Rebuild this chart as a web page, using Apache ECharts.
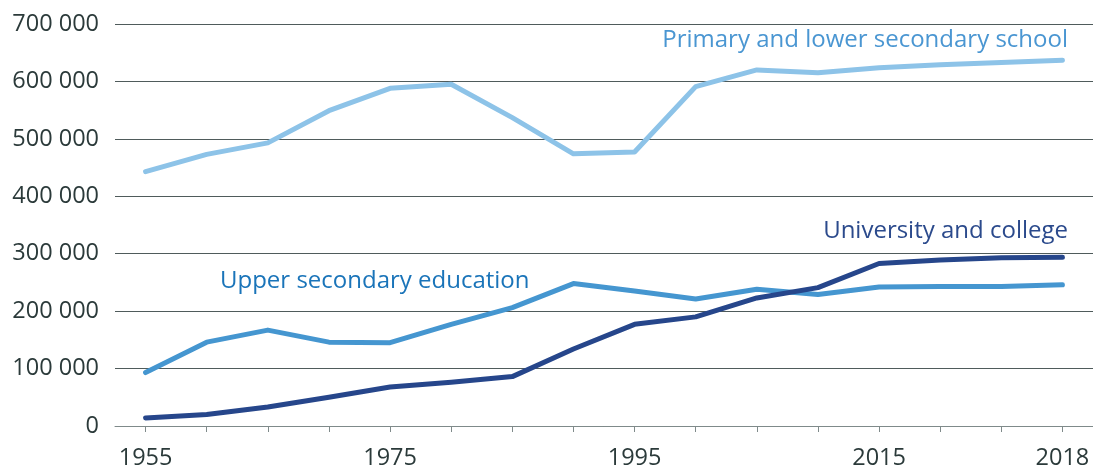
<!DOCTYPE html>
<html>
<head>
<meta charset="utf-8">
<script src="https://cdn.jsdelivr.net/npm/echarts@6/dist/echarts.min.js"></script>
<style>
  html, body { margin: 0; padding: 0; background: #fff; }
  #chart { width: 1093px; height: 466px; }
</style>
</head>
<body>
<div id="chart"></div>
<script>
// years (equal spacing, last three are single years)
var years = ["1955", "1960", "1965", "1970", "1975", "1980", "1985", "1990",
  "1995", "2000", "2005", "2010", "2015", "2016", "2017", "2018"];
var shownYears = ["1955", "1975", "1995", "2015", "2018"];

var primary = [443000, 473000, 493000, 549000, 588000, 595000, 537000, 474000,
  477000, 591000, 620000, 615000, 624000, 629000, 633000, 637000];
var upperSecondary = [93000, 146000, 167000, 146000, 145000, 177000, 206000, 248000,
  235000, 221000, 238000, 229000, 242000, 243000, 243000, 246000];
var university = [14000, 20000, 33000, 50000, 68000, 76000, 86000, 134000,
  177000, 190000, 223000, 241000, 283000, 289000, 293000, 294000];

var yTicks = [0, 100000, 200000, 300000, 400000, 500000, 600000, 700000];

var font = "'Open Sans', sans-serif";
var chart = echarts.init(document.getElementById("chart"));

function lineSeries(name, data, color) {
  return {
    name: name,
    type: "line",
    data: data,
    symbol: "none",
    lineStyle: { width: 5, color: color, cap: "round", join: "round" },
    itemStyle: { color: color },
    animation: false
  };
}

chart.setOption({
  backgroundColor: "#ffffff",
  grid: { left: 115, right: 0, top: 24, bottom: 40, containLabel: false, outerBoundsMode: "none" },
  xAxis: {
    type: "category",
    data: years,
    boundaryGap: true,
    axisLine: { show: true, lineStyle: { color: "#7f8a8a", width: 1 } },
    axisTick: { show: true, alignWithLabel: true, interval: 0, length: 6, lineStyle: { color: "#7f8a8a" } },
    axisLabel: {
      interval: function (i, v) { return shownYears.indexOf(v) >= 0; },
      color: "#2b3a3a",
      fontFamily: font,
      fontSize: 23.5,
      margin: 20
    },
    splitLine: { show: false }
  },
  yAxis: {
    type: "value",
    min: yTicks[0],
    max: yTicks[yTicks.length - 1],
    interval: 100000,
    axisLine: { show: false },
    axisTick: { show: false },
    axisLabel: {
      color: "#2b3a3a",
      fontFamily: font,
      fontSize: 23.5,
      margin: 16,
      formatter: function (v) {
        return v === 0 ? "0" : String(v).replace(/\B(?=(\d{3})+(?!\d))/g, " ");
      }
    },
    splitLine: { show: true, lineStyle: { color: "#4f5b5b", width: 1 } }
  },
  series: [
    lineSeries("Primary and lower secondary school", primary, "#8dc3e8"),
    lineSeries("Upper secondary education", upperSecondary, "#4596d0"),
    lineSeries("University and college", university, "#26468b")
  ],
  graphic: [
    {
      type: "text", right: 25, top: 28,
      style: { text: "Primary and lower secondary school", fill: "#4a96d2", font: "24px " + font }
    },
    {
      type: "text", right: 25, top: 219,
      style: { text: "University and college", fill: "#2b4a8c", font: "24px " + font }
    },
    {
      type: "text", left: 220, top: 269,
      style: { text: "Upper secondary education", fill: "#1a74b9", font: "24px " + font }
    }
  ]
});
</script>
</body>
</html>
